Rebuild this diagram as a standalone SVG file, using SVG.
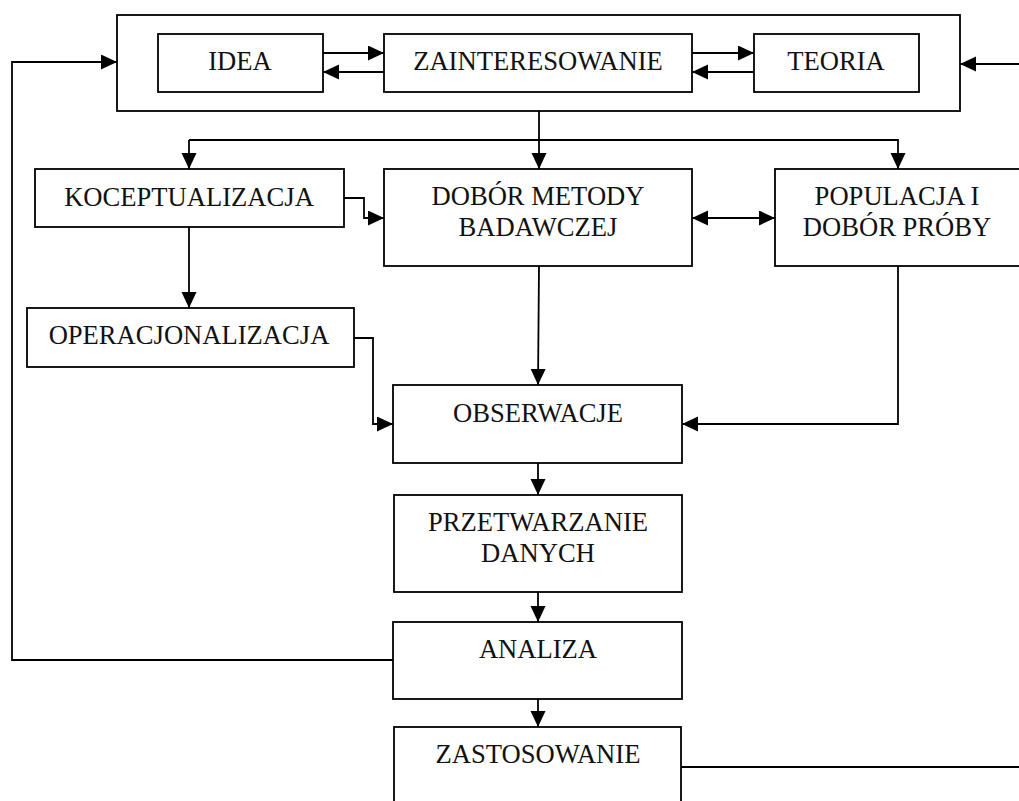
<svg xmlns="http://www.w3.org/2000/svg" width="1019" height="801" viewBox="0 0 1019 801">
<style>
.box{fill:#fff;stroke:#000;stroke-width:1.8}
.t{font-family:"Liberation Serif","Times New Roman",serif;font-size:26.6px;fill:#111;text-anchor:middle}
.c{fill:none;stroke:#000;stroke-width:1.8}
</style>
<defs>
<marker id="ah" markerUnits="userSpaceOnUse" markerWidth="17" markerHeight="16" refX="16" refY="7.5" orient="auto-start-reverse">
<path d="M0,0 L16,7.5 L0,15 z" fill="#000"/>
</marker>
</defs>
<rect width="1019" height="801" fill="#fff"/>
<g id="outer"><rect class="box" x="117" y="15" width="843" height="96"/></g>
<g id="idea"><rect class="box" x="158" y="34" width="165" height="58"/><text class="t" x="240" y="70">IDEA</text></g>
<g id="zainteresowanie"><rect class="box" x="384" y="34" width="308" height="58"/><text class="t" x="538" y="70">ZAINTERESOWANIE</text></g>
<g id="teoria"><rect class="box" x="754" y="34" width="165" height="58"/><text class="t" x="836" y="70">TEORIA</text></g>
<g id="koceptualizacja"><rect class="box" x="35" y="169" width="309" height="58"/><text class="t" x="189" y="206">KOCEPTUALIZACJA</text></g>
<g id="dobor"><rect class="box" x="384" y="169" width="308" height="97"/><text class="t" x="538" y="205">DOBÓR METODY</text><text class="t" x="538" y="236">BADAWCZEJ</text></g>
<g id="populacja"><rect class="box" x="775" y="169" width="250" height="97"/><text class="t" x="897" y="205">POPULACJA I</text><text class="t" x="897" y="236">DOBÓR PRÓBY</text></g>
<g id="operacjonalizacja"><rect class="box" x="27" y="308" width="327" height="59"/><text class="t" x="189" y="344">OPERACJONALIZACJA</text></g>
<g id="obserwacje"><rect class="box" x="393" y="385" width="289" height="78"/><text class="t" x="538" y="422">OBSERWACJE</text></g>
<g id="przetwarzanie"><rect class="box" x="394" y="495" width="288" height="97"/><text class="t" x="538" y="531">PRZETWARZANIE</text><text class="t" x="538" y="562">DANYCH</text></g>
<g id="analiza"><rect class="box" x="393" y="622" width="289" height="77"/><text class="t" x="538" y="658">ANALIZA</text></g>
<g id="zastosowanie"><rect class="box" x="394" y="727" width="287" height="90"/><text class="t" x="538" y="763">ZASTOSOWANIE</text></g>
<g id="connectors">
<path class="c" d="M323,53 H384" marker-end="url(#ah)"/>
<path class="c" d="M384,72 H323" marker-end="url(#ah)"/>
<path class="c" d="M692,53 H754" marker-end="url(#ah)"/>
<path class="c" d="M754,72 H692" marker-end="url(#ah)"/>
<path class="c" d="M393,660 H12 V62 H117" marker-end="url(#ah)"/>
<path class="c" d="M1020,64 H960" marker-end="url(#ah)"/>
<path class="c" d="M539,111 V169" marker-end="url(#ah)"/>
<path class="c" d="M189,140 H898 V169" marker-end="url(#ah)"/>
<path class="c" d="M189,140 V169" marker-end="url(#ah)"/>
<path class="c" d="M344,198 H364 V218 H384" marker-end="url(#ah)"/>
<path class="c" d="M692,218 H775" marker-start="url(#ah)" marker-end="url(#ah)"/>
<path class="c" d="M189,227 V308" marker-end="url(#ah)"/>
<path class="c" d="M354,338 H373 V424 H393" marker-end="url(#ah)"/>
<path class="c" d="M539,266 L538,385" marker-end="url(#ah)"/>
<path class="c" d="M898,266 V424 H682" marker-end="url(#ah)"/>
<path class="c" d="M538,463 V495" marker-end="url(#ah)"/>
<path class="c" d="M538,592 V622" marker-end="url(#ah)"/>
<path class="c" d="M538,699 V727" marker-end="url(#ah)"/>
<path class="c" d="M681,767 H1020"/>
</g>
</svg>
